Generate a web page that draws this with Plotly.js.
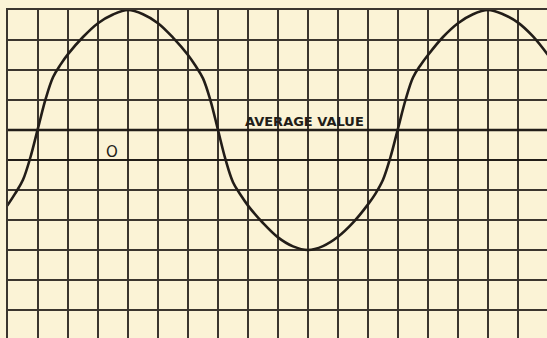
<!DOCTYPE html>
<html>
<head>
<meta charset="utf-8">
<script src="https://cdn.plot.ly/plotly-3.0.1.min.js"></script>
<style>
  html, body { margin: 0; padding: 0; background: #fbf3d6; }
  #chart { width: 547px; height: 338px; }
</style>
</head>
<body>
<div id="chart"></div>
<script>
// Curve (x: squares from left border, y: squares above the "O" line)
const curveX = [-0.5, 0.0, 0.25, 0.5, 0.75, 1.0, 1.25, 1.5, 1.75, 2.0, 2.5, 3.0, 3.5, 4.0,
                4.5, 5.0, 5.5, 6.0, 6.25, 6.5, 6.75, 7.0, 7.25, 7.5, 7.75, 8.0, 8.5, 9.0, 9.5, 10.0,
                10.5, 11.0, 11.5, 12.0, 12.25, 12.5, 12.75, 13.0, 13.25, 13.5, 13.75, 14.0, 14.5, 15.0, 15.5, 16.0,
                16.5, 17.0, 17.5, 18.0];
const curveY = [-2.08, -1.48, -1.10, -0.66, 0.10, 1.06, 2.02, 2.76, 3.18, 3.53, 4.10, 4.56, 4.85, 5.00,
                4.86, 4.56, 4.08, 3.50, 3.14, 2.72, 1.98, 1.00, 0.02, -0.74, -1.16, -1.52, -2.10, -2.58, -2.88, -3.00,
                -2.87, -2.56, -2.09, -1.48, -1.12, -0.66, 0.10, 1.05, 2.00, 2.75, 3.16, 3.50, 4.10, 4.56, 4.86, 5.00,
                4.86, 4.58, 4.12, 3.50];
const averageValue = [1];
const averageLabel = ["AVERAGE VALUE"];
const originLabel = ["O"];
const originLabelPos = [3.47, 0.28];
const averageLabelPos = [9.88, 1.28];

const ink = '#221d18';
const gridInk = '#3b352e';
const paper = '#fbf3d6';

const trace = {
  x: curveX, y: curveY, type: 'scatter', mode: 'lines',
  line: { color: ink, width: 2.6, shape: 'spline', smoothing: 1 },
  hoverinfo: 'skip', showlegend: false
};

const layout = {
  width: 547, height: 338,
  margin: { l: 8, r: 0, t: 10, b: 0, pad: 0 },
  paper_bgcolor: paper, plot_bgcolor: paper,
  showlegend: false,
  xaxis: {
    range: [0, 539 / 30], side: 'top',
    tick0: 0, dtick: 1, showticklabels: false, ticks: '',
    showgrid: true, gridcolor: gridInk, gridwidth: 1.3,
    showline: true, linecolor: gridInk, linewidth: 1.6,
    zeroline: false, fixedrange: true
  },
  yaxis: {
    range: [5 - 328 / 30, 5],
    tick0: 0, dtick: 1, showticklabels: false, ticks: '',
    showgrid: true, gridcolor: gridInk, gridwidth: 1.3,
    showline: true, linecolor: gridInk, linewidth: 1.6,
    zeroline: true, zerolinecolor: ink, zerolinewidth: 2.6,
    fixedrange: true
  },
  shapes: averageValue.map(v => ({
    type: 'line', xref: 'paper', x0: 0, x1: 1, yref: 'y', y0: v, y1: v,
    line: { color: ink, width: 2.6 }, layer: 'above'
  })),
  annotations: [
    { x: averageLabelPos[0], y: averageLabelPos[1], xref: 'x', yref: 'y',
      text: averageLabel[0], showarrow: false,
      font: { family: 'DejaVu Sans', size: 13, color: ink, weight: 'bold' },
      xanchor: 'center', yanchor: 'middle' },
    { x: originLabelPos[0], y: originLabelPos[1], xref: 'x', yref: 'y',
      text: originLabel[0], showarrow: false,
      font: { family: 'DejaVu Sans', size: 15, color: ink },
      xanchor: 'center', yanchor: 'middle' }
  ]
};

Plotly.newPlot('chart', [trace], layout, { staticPlot: true, displayModeBar: false });
</script>
</body>
</html>
